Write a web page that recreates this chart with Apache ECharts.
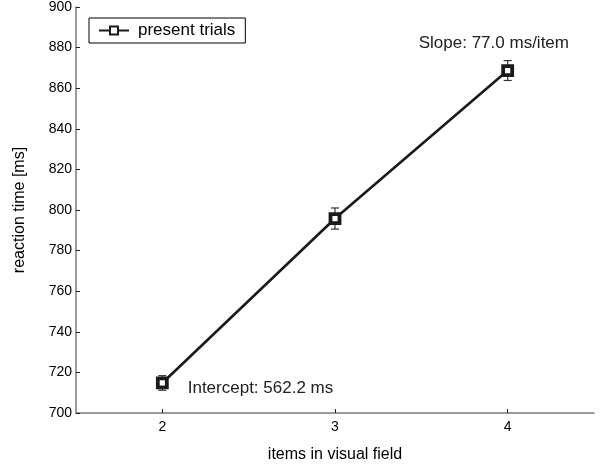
<!DOCTYPE html>
<html>
<head>
<meta charset="utf-8">
<script src="https://cdn.jsdelivr.net/npm/echarts@6/dist/echarts.min.js"></script>
<style>html,body{margin:0;padding:0;background:#fff}#c{width:605px;height:470px}</style>
</head>
<body>
<div id="c"></div>
<script>
var items = [2, 3, 4];
var rt = [714.8, 795.8, 868.7];
var err = [3.6, 5.2, 4.9];
var yTicks = [700, 720, 740, 760, 780, 800, 820, 840, 860, 880, 900];
var slopeText = 'Slope: 77.0 ms/item';
var interceptText = 'Intercept: 562.2 ms';

var chart = echarts.init(document.getElementById('c'), null, {renderer: 'canvas'});
var font = 'Liberation Sans, Arial, Helvetica, sans-serif';
var axisColor = '#7a7a7a';

var lineData = items.map(function (x, i) { return [x, rt[i]]; });
var errData = items.map(function (x, i) { return [x, rt[i] - err[i], rt[i] + err[i]]; });

chart.setOption({
  animation: false,
  textStyle: {fontFamily: font},
  grid: {left: 76, right: 11, top: 6, bottom: 57},
  legend: {
    data: ['present trials'],
    left: 89, top: 18,
    orient: 'vertical',
    backgroundColor: '#fff',
    borderColor: '#000', borderWidth: 1,
    padding: [4, 10, 4, 9],
    itemWidth: 30, itemHeight: 10,
    textStyle: {fontSize: 17, color: '#000', fontFamily: font, padding: [0, 0, 0, 4]}
  },
  xAxis: {
    type: 'value', min: 1.5, max: 4.5,
    name: 'items in visual field', nameLocation: 'middle', nameGap: 34,
    nameTextStyle: {fontSize: 16, color: '#000'},
    axisLine: {lineStyle: {color: axisColor, width: 1.5}},
    axisTick: {inside: true, length: 4, lineStyle: {color: '#222'}, customValues: items},
    axisLabel: {color: '#000', fontSize: 14, margin: 7, customValues: items},
    splitLine: {show: false}
  },
  yAxis: {
    type: 'value', min: 700, max: 900, interval: 20,
    name: 'reaction time [ms]', nameLocation: 'middle', nameGap: 48,
    nameTextStyle: {fontSize: 16, color: '#000'},
    axisLine: {show: true, lineStyle: {color: axisColor, width: 1.5}},
    axisTick: {show: true, inside: true, length: 4, lineStyle: {color: '#222'}},
    axisLabel: {color: '#000', fontSize: 14, margin: 4, customValues: yTicks},
    splitLine: {show: false}
  },
  series: [
    {
      name: 'present trials',
      type: 'line',
      data: lineData,
      symbol: 'rect', symbolSize: 9,
      lineStyle: {color: '#1a1a1a', width: 2.6},
      itemStyle: {color: '#fff', borderColor: '#1a1a1a', borderWidth: 3.8},
      z: 3
    },
    {
      type: 'custom',
      data: errData,
      z: 2,
      renderItem: function (params, api) {
        var x = api.value(0);
        var lo = api.coord([x, api.value(1)]);
        var hi = api.coord([x, api.value(2)]);
        var w = 4;
        var st = {stroke: '#333', lineWidth: 1.2};
        return {type: 'group', children: [
          {type: 'line', shape: {x1: lo[0], y1: lo[1], x2: hi[0], y2: hi[1]}, style: st},
          {type: 'line', shape: {x1: lo[0] - w, y1: lo[1], x2: lo[0] + w, y2: lo[1]}, style: st},
          {type: 'line', shape: {x1: hi[0] - w, y1: hi[1], x2: hi[0] + w, y2: hi[1]}, style: st}
        ]};
      }
    }
  ]
});

var sp = chart.convertToPixel({gridIndex: 0}, [3.92, 882.3]);
var ip = chart.convertToPixel({gridIndex: 0}, [2.147, 712.3]);
chart.setOption({
  graphic: [
    {type: 'text', x: sp[0], y: sp[1], style: {text: slopeText, fill: '#222', font: '17px ' + font, textAlign: 'center', textVerticalAlign: 'middle'}},
    {type: 'text', x: ip[0], y: ip[1], style: {text: interceptText, fill: '#222', font: '17px ' + font, textAlign: 'left', textVerticalAlign: 'middle'}}
  ]
});
</script>
</body>
</html>
